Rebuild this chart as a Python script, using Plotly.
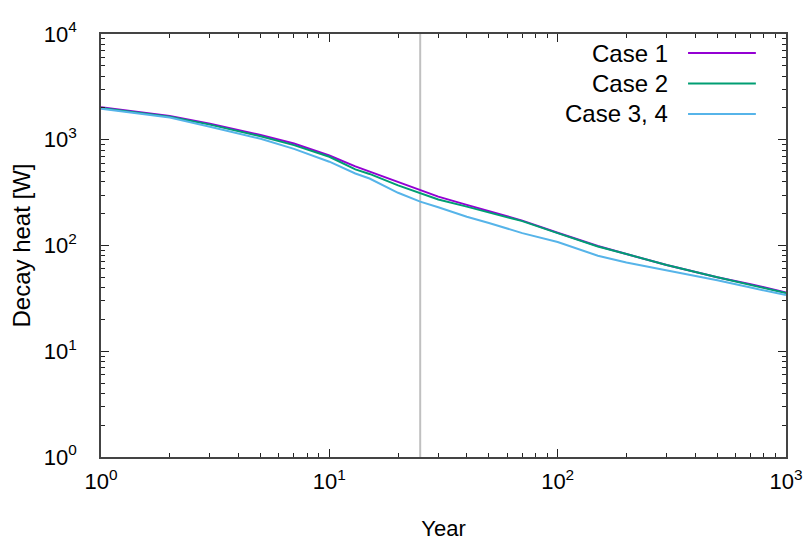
import plotly.graph_objects as go

# Decay heat of the spent fuel for each case (W) versus cooling time (years)
years = [1, 1.5, 2, 3, 4, 5, 7, 10, 13, 15, 20, 25, 30, 40, 50, 70, 100,
         150, 200, 300, 500, 700, 1000]
case1 = [2030, 1800, 1680, 1420, 1240, 1110, 920, 710, 560, 500, 395, 332,
         290, 242, 210, 172, 132, 99, 83, 65.5, 50, 43, 36]
case2 = [2000, 1790, 1650, 1390, 1210, 1080, 890, 690, 525, 475, 370, 312,
         272, 233, 205, 170, 131, 98, 83, 65.5, 50, 42.5, 35.5]
case34 = [1960, 1760, 1620, 1330, 1150, 1020, 820, 620, 480, 430, 315, 260,
          230, 187, 163, 131, 108, 80, 69, 58, 47, 40, 34]

series_names = ["Case 1", "Case 2", "Case 3, 4"]
series_values = [case1, case2, case34]
series_colors = ["#9400d3", "#009e73", "#56b4e9"]

marker_year = 25
y_range = [1, 1e4]

decades_x = [1, 10, 100, 1000]
decades_y = [1, 10, 100, 1000, 10000]
x_ticktext = ["10<sup>0</sup>", "10<sup>1</sup>", "10<sup>2</sup>", "10<sup>3</sup>"]
y_ticktext = ["10<sup>0</sup>", "10<sup>1</sup>", "10<sup>2</sup>",
              "10<sup>3</sup>", "10<sup>4</sup>"]

FONT = "Liberation Sans, Arial, sans-serif"

fig = go.Figure()

# vertical reference line at the marker year
fig.add_trace(go.Scatter(x=[marker_year, marker_year], y=y_range, mode="lines",
                         line=dict(color="#c0c0c0", width=2), showlegend=False,
                         hoverinfo="skip"))

for name, vals, col in zip(series_names, series_values, series_colors):
    fig.add_trace(go.Scatter(x=years, y=vals, mode="lines", name=name,
                             line=dict(color=col, width=2), showlegend=False))

# gnuplot-style key: right-aligned label followed by a line sample
key_top = 0.955
key_step = 0.072
for i, (name, col) in enumerate(zip(series_names, series_colors)):
    yk = key_top - i * key_step
    fig.add_annotation(x=0.831, y=yk, xref="paper", yref="paper", text=name,
                       showarrow=False, xanchor="right", yanchor="middle",
                       font=dict(size=24, color="black", family=FONT))
    fig.add_shape(type="line", xref="paper", yref="paper",
                  x0=0.857, x1=0.956, y0=yk, y1=yk,
                  line=dict(color=col, width=2))


def minor_vals(decades):
    out = []
    for d in decades[:-1]:
        out += [d * k for k in range(2, 10)]
    return out


axis_common = dict(
    type="log",
    showgrid=False,
    zeroline=False,
    showline=True,
    linecolor="#444444",
    linewidth=1.5,
    mirror="ticks",
    ticks="inside",
    ticklen=8,
    tickwidth=1,
    tickcolor="#222222",
    tickfont=dict(size=22, color="black", family=FONT),
    automargin=False,
)

fig.update_xaxes(
    **axis_common,
    range=[0, 3],
    tickvals=decades_x,
    ticktext=x_ticktext,
    minor=dict(ticks="inside", ticklen=4, tickcolor="#222222",
               tickvals=minor_vals(decades_x), showgrid=False),
    title=dict(text="Year", standoff=33,
               font=dict(size=22, color="black", family=FONT)),
    ticklabelstandoff=4,
)
fig.update_yaxes(
    **axis_common,
    range=[0, 4],
    tickvals=decades_y,
    ticktext=y_ticktext,
    minor=dict(ticks="inside", ticklen=4, tickcolor="#222222",
               tickvals=minor_vals(decades_y), showgrid=False),
    title=dict(text="Decay heat [W]", standoff=6,
               font=dict(size=24, color="black", family=FONT)),
    ticklabelstandoff=18,
)

fig.update_layout(
    width=807,
    height=541,
    margin=dict(l=101, r=21, t=34, b=84),
    paper_bgcolor="white",
    plot_bgcolor="white",
    font=dict(family=FONT, color="black"),
    showlegend=False,
)

fig.write_html("out.html")
